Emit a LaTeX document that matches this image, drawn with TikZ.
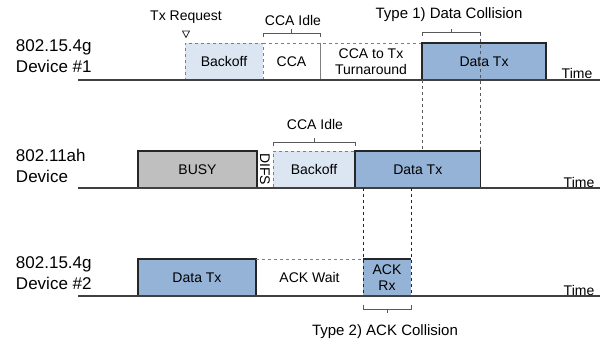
\documentclass[tikz,border=0pt]{standalone}
\usepackage{fontspec}
\setmainfont{Liberation Sans}
\usetikzlibrary{calc}
\definecolor{dblue}{HTML}{95B3D7}
\definecolor{lblue}{HTML}{DCE6F2}
\definecolor{busyg}{HTML}{BFBFBF}
\definecolor{edge}{HTML}{262626}
\definecolor{dgray}{HTML}{7F7F7F}
\definecolor{axis}{HTML}{404040}
\definecolor{brk}{HTML}{595959}
\begin{document}
\begin{tikzpicture}[x=1pt,y=-1pt,
  every node/.style={inner sep=0pt,outer sep=0pt,font=\fontsize{14}{16.5}\selectfont,text=black},
  slot/.style={minimum height=37pt,anchor=south west,align=center},
  databox/.style={slot,fill=dblue,draw=edge,line width=1.2pt},
  busybox/.style={slot,fill=busyg,draw=edge,line width=1.2pt},
  backbox/.style={slot,fill=lblue,draw=dgray,dashed,line width=1pt},
  plainbox/.style={slot},
  topdash/.style={draw=dgray,dashed,line width=1pt},
  sep/.style={draw=dgray,line width=1pt},
  timeline/.style={draw=axis,line width=1.8pt},
  bracket/.style={draw=brk,line width=0.9pt},
  vdash/.style={draw=brk,dashed,line width=1pt},
  devlabel/.style={anchor=west,align=left,font=\fontsize{17}{21}\selectfont},
  head/.style={font=\fontsize{15}{17}\selectfont},
  timelab/.style={font=\fontsize{14}{16}\selectfont}
]
\useasboundingbox (0,0) rectangle (604,346);

% ---------- Row 1 ----------
\node[devlabel] (dev1) at (16,56) {802.15.4g\\Device \#1};
\coordinate (t1s) at (78,80);
\coordinate (t1e) at (600,80);
\node[backbox,minimum width=78pt] (bo1) at (185,80) {Backoff};
\node[plainbox,minimum width=57pt] (cca) at (263,80) {CCA};
\node[plainbox,minimum width=102pt] (ta) at (320,80) {CCA to Tx\\Turnaround};
\draw[topdash] (cca.north west) -- (ta.north east);
\draw[sep] (cca.north east) -- (cca.south east);
\node[databox,minimum width=124pt] (d1) at (422,80) {Data Tx};
\node[timelab] (time1) at (577,73) {Time};
\draw[timeline] (t1s) -- (t1e);

% Tx request
\node (txr) at (186,17) {Tx Request};
\draw[edge,line width=0.8pt] (182.5,31) -- (189.5,31) -- (186,37.5) -- cycle;

% CCA idle bracket
\node (ccaidle) at (293,20) {CCA Idle};
\draw[bracket] (263,37) -- (263,33) -- (320,33) -- (320,37);
\draw[bracket] (291.5,33) -- (291.5,29);

% Type 1 bracket
\node[head] (type1) at (449,15) {Type 1) Data Collision};
\draw[bracket] (422,36) -- (422,32.5) -- (480.5,32.5) -- (480.5,36);
\draw[bracket] (451,32.5) -- (451,28.5);

% ---------- Row 2 ----------
\node[devlabel] (dev2) at (16,166) {802.11ah\\Device};
\coordinate (t2s) at (78,188);
\coordinate (t2e) at (600,188);
\node[busybox,minimum width=119pt] (busy) at (138,188) {BUSY};
\node[rotate=-90] (difs) at (265,169) {DIFS};
\node[backbox,minimum width=82pt] (bo2) at (273,188) {Backoff};
\node[databox,minimum width=125.5pt] (d2) at (355,188) {Data Tx};
\node[timelab] (time2) at (579,182) {Time};
\draw[timeline] (t2s) -- (t2e);

\node (ccaidle2) at (315,124) {CCA Idle};
\draw[bracket] (273,146) -- (273,142) -- (355,142) -- (355,146);
\draw[bracket] (314,142) -- (314,138);

% Type 1 dashed guides
\draw[vdash] (422,80) -- (422,150);
\draw[vdash] (480.5,32.5) -- (480.5,150);

% ---------- Row 3 ----------
\node[devlabel] (dev3) at (16,273) {802.15.4g\\Device \#2};
\coordinate (t3s) at (78,296);
\coordinate (t3e) at (600,296);
\node[databox,minimum width=118pt] (d3) at (138,296) {Data Tx};
\node[plainbox,minimum width=107pt] (ackw) at (256,296) {ACK Wait};
\draw[topdash] (ackw.north west) -- (ackw.north east);
\node[slot,fill=dblue,minimum width=48pt] (ack) at (363,296) {ACK\\Rx};
\draw[edge,line width=1.2pt] (ack.north west) -- (ack.north east);
\draw[vdash,draw=edge] (363,188) -- (ack.south west);
\draw[vdash,draw=edge] (411,188) -- (ack.south east);
\node[timelab] (time3) at (579,290) {Time};
\draw[timeline] (t3s) -- (t3e);

% Type 2 bracket
\draw[bracket] (363,305) -- (363,309) -- (411,309) -- (411,305);
\draw[bracket] (387,309) -- (387,313);
\node[head] (type2) at (385,332) {Type 2) ACK Collision};
\end{tikzpicture}
\end{document}
